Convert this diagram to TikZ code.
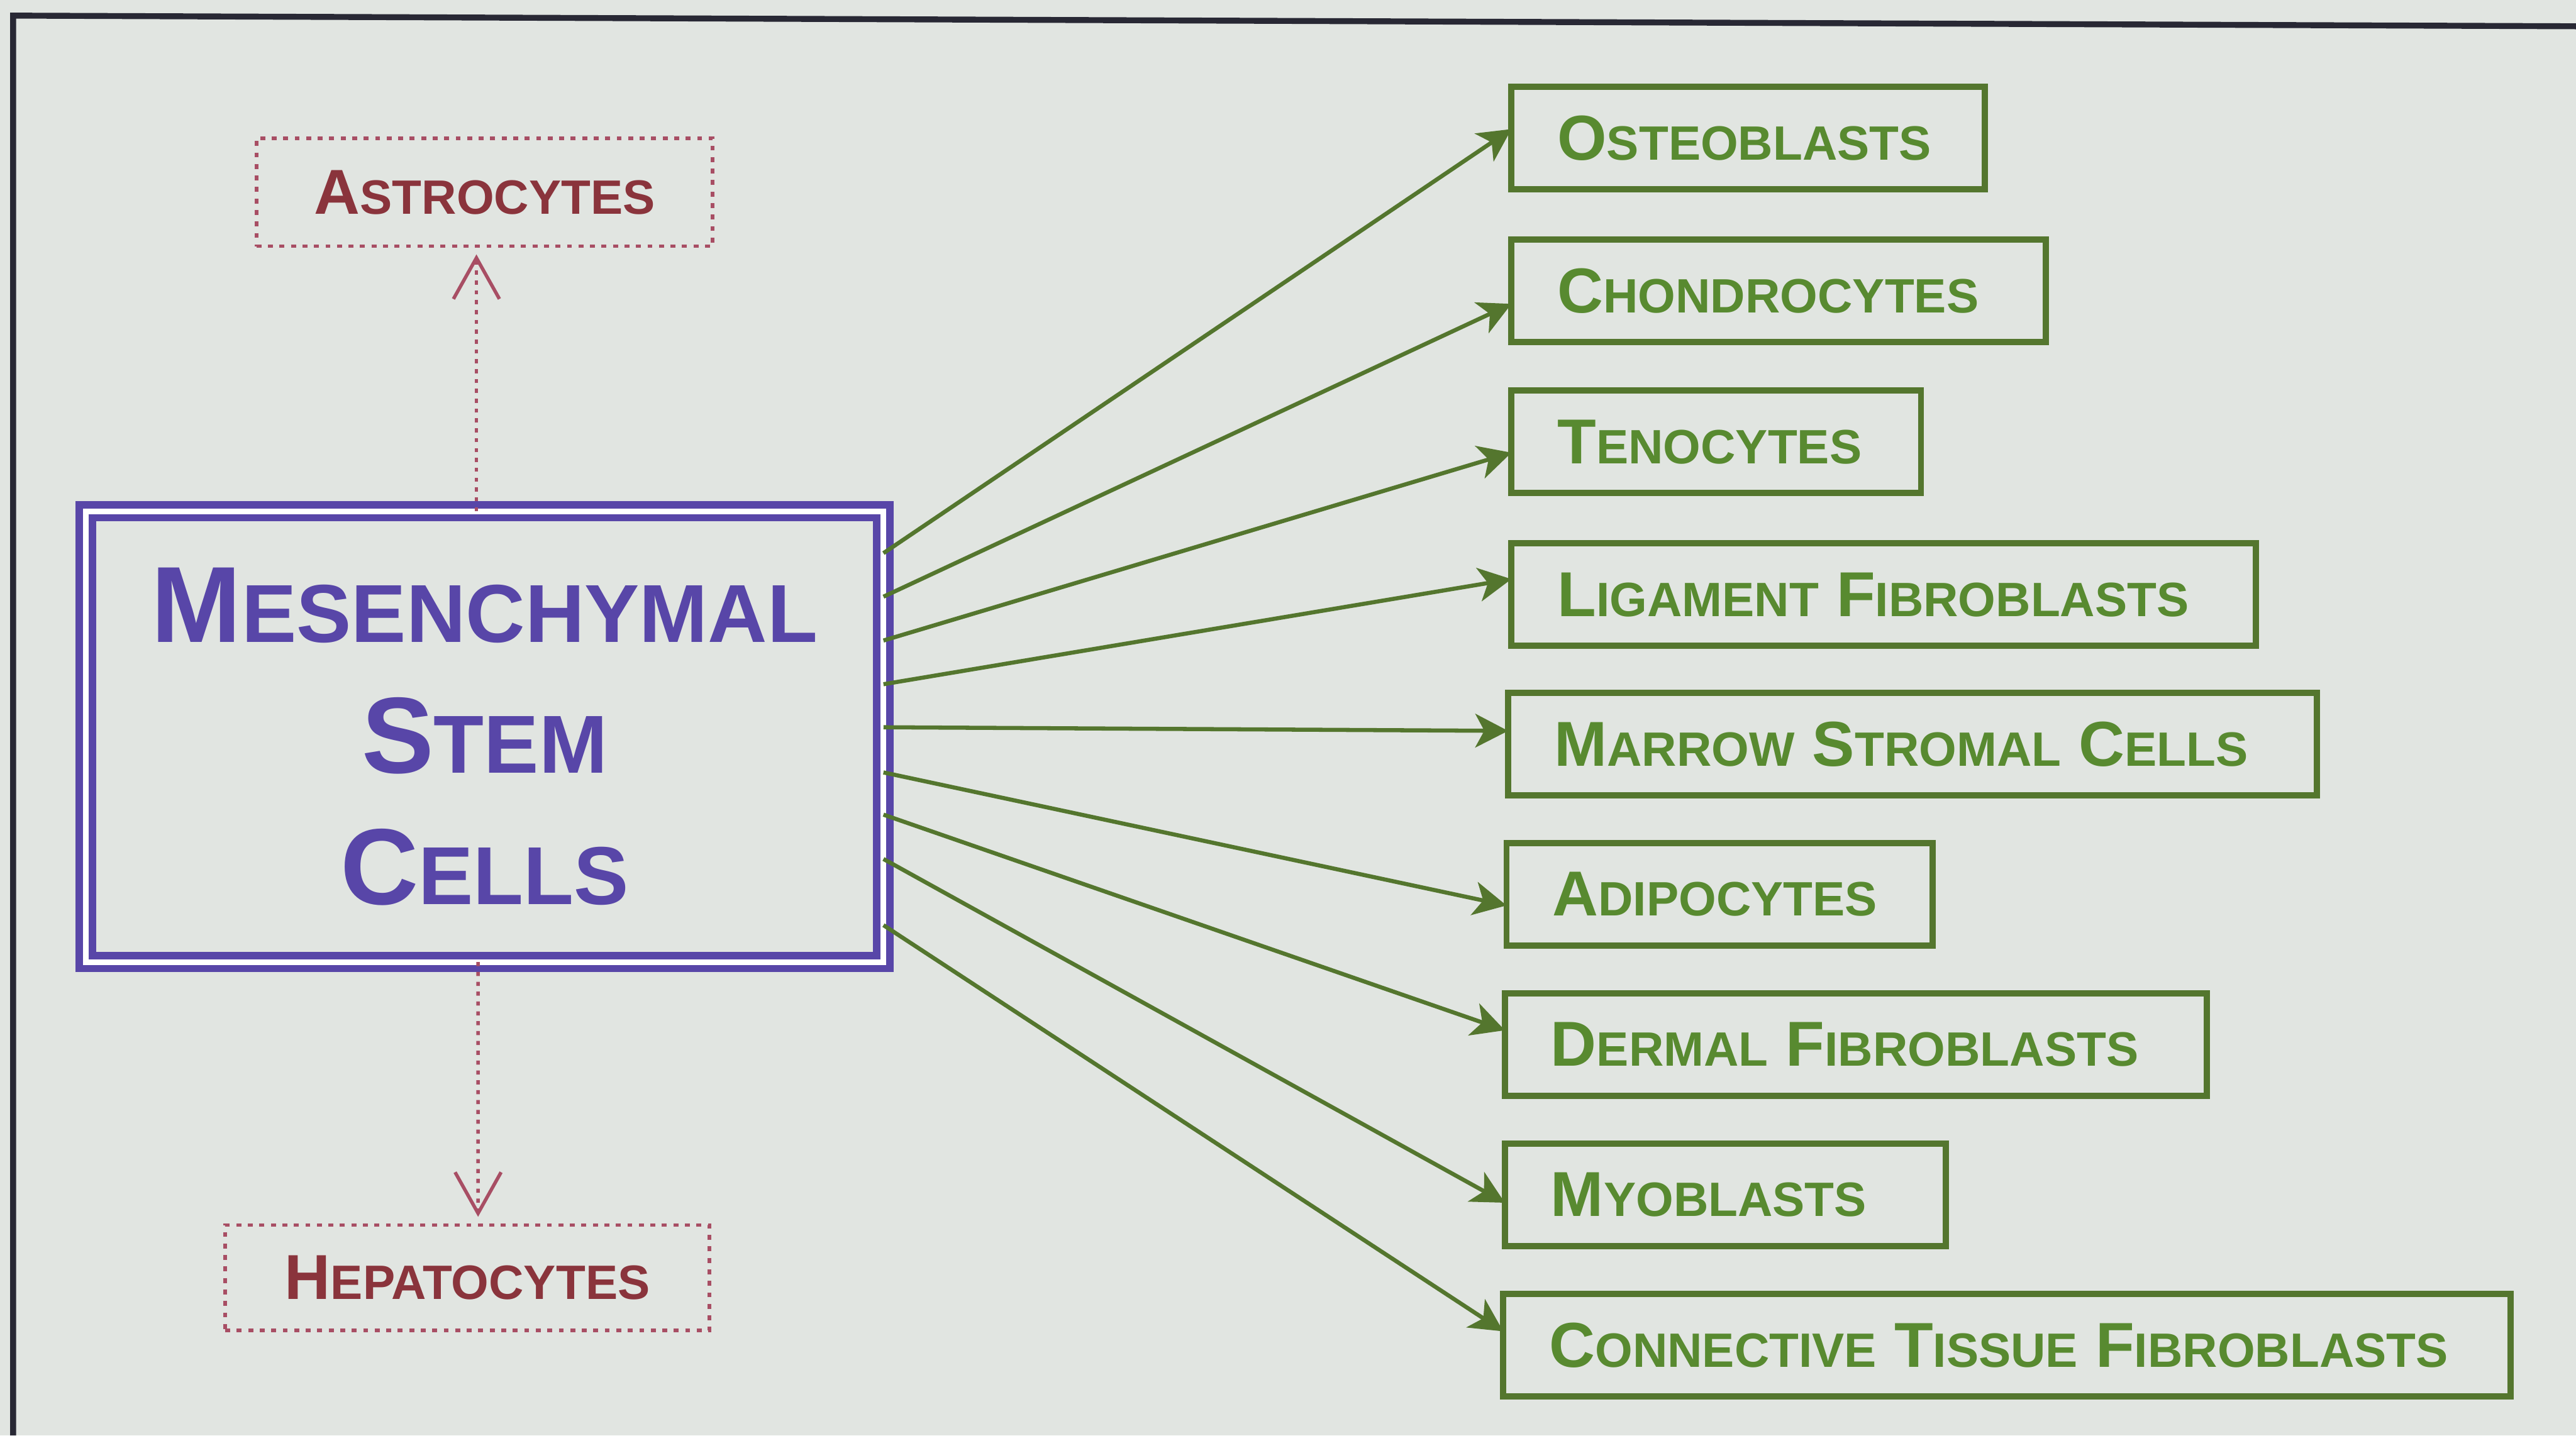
\documentclass[tikz,border=0pt]{standalone}
\usepackage{fontspec}
\setmainfont{Liberation Sans}
\usepackage{graphicx}
\usepackage{xcolor}
\definecolor{PaperGray}{RGB}{225,229,225}
\definecolor{FrameDark}{RGB}{40,40,52}
\definecolor{StemPurple}{RGB}{88,70,168}
\definecolor{LineGreen}{RGB}{84,118,46}
\definecolor{TextGreen}{RGB}{88,138,48}
\definecolor{SideMaroon}{RGB}{138,52,60}
\definecolor{DotRose}{RGB}{168,78,100}
\usetikzlibrary{arrows.meta, positioning, calc}

% first letter full size, the rest as small capitals
\newcommand{\capword}[2]{#1\scalebox{0.76}{#2}}

\tikzset{
  % central stem cell box, double rule
  stembox/.style={
    rectangle, draw=StemPurple, line width=0.9mm,
    double=white, double distance=0.7mm,
    text=StemPurple, align=center,
    font=\fontsize{37.5}{45.5}\selectfont\bfseries,
    minimum width=97.1mm, minimum height=54.9mm,
    inner sep=0pt, outer sep=0pt
  },
  % lineage box, solid green
  cellbox/.style={
    rectangle, draw=LineGreen, line width=0.75mm,
    text=TextGreen, anchor=west,
    font=\fontsize{22}{26}\selectfont\bfseries,
    minimum height=12.5mm, inner xsep=5.6mm, inner ysep=0pt,
    outer sep=0pt
  },
  % side box, dotted
  sidebox/.style={
    rectangle, draw=DotRose, line width=0.45mm,
    dash pattern=on 0.6mm off 0.8mm,
    text=SideMaroon,
    font=\fontsize{22}{26}\selectfont\bfseries,
    inner sep=0pt, outer sep=0pt
  },
  % arrows
  arr/.style={-{Stealth[length=4mm, width=4.1mm, inset=1.1mm]}, line width=0.5mm, LineGreen},
  darr/.style={-{Straight Barb[length=5mm, width=5.6mm]}, line width=0.42mm, DotRose,
    dash pattern=on 0.5mm off 0.7mm},
}

\begin{document}
\begin{tikzpicture}[x=0.2mm, y=-0.2mm]
  \useasboundingbox (0,0) rectangle (1568,874);
  \fill[PaperGray] (0,0) rectangle (1568,874);
  \draw[FrameDark, line width=0.72mm] (8,874) -- (8,9.5) -- (1568,16);

  % centre
  \node[stembox] (msc) at (295,448.5)
    {\capword{M}{ESENCHYMAL}\\\capword{S}{TEM}\\\capword{C}{ELLS}};

  % side lineages
  \node[sidebox, minimum width=55.55mm, minimum height=13.15mm] (astro) at (295,117)
    {\capword{A}{STROCYTES}};
  \node[sidebox, minimum width=58.95mm, minimum height=12.85mm] (hepato) at (284.5,778)
    {\capword{H}{EPATOCYTES}};
  \draw[darr] ($(msc.north)+(-5,0)$) -- ($(astro.south)+(-5,5)$);
  \draw[darr] ($(msc.south)+(-4,0)$) -- ($(hepato.north)+(6.5,-5)$);

  % mesenchymal lineages
  \foreach \nm/\cx/\cy/\tw/\txt in {
    ost/920/84/46.45mm/{\capword{O}{STEOBLASTS}},
    cho/920/177/53.85mm/{\capword{C}{HONDROCYTES}},
    ten/920/269/38.65mm/{\capword{T}{ENOCYTES}},
    lig/920/362/79.45mm/{\capword{L}{IGAMENT} \capword{F}{IBROBLASTS}},
    mar/918/453/87.25mm/{\capword{M}{ARROW} \capword{S}{TROMAL} \capword{C}{ELLS}},
    adi/917/544.5/40.65mm/{\capword{A}{DIPOCYTES}},
    der/916/636/74.25mm/{\capword{D}{ERMAL} \capword{F}{IBROBLASTS}},
    myo/916/727.5/42.45mm/{\capword{M}{YOBLASTS}},
    con/915/819/111.45mm/{\capword{C}{ONNECTIVE} \capword{T}{ISSUE} \capword{F}{IBROBLASTS}}}{
    \node[cellbox] (\nm) at (\cx,\cy) {\makebox[\tw][l]{\txt}};
  }

  \foreach \nm/\ys/\ye in {ost/336.8/78.6, cho/363.3/185, ten/390/275.6,
    lig/416.6/352.6, mar/442.8/445, adi/470.3/551.3, der/496/627.3,
    myo/523/732.3, con/563.3/810.6}{
    \draw[arr] (msc.east |- 0,\ys) -- (\nm.west |- 0,\ye);
  }
\end{tikzpicture}
\end{document}
